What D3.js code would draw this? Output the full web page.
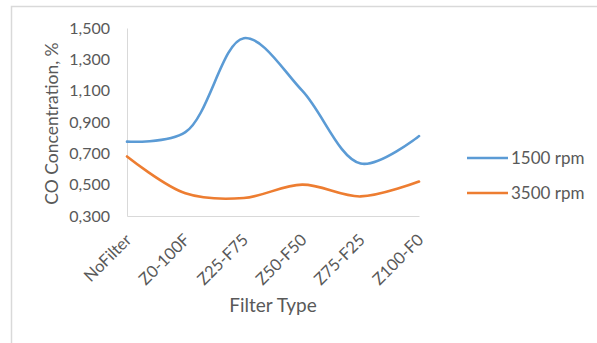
<!DOCTYPE html>
<html><head><meta charset="utf-8">
<script src="https://cdn.jsdelivr.net/npm/d3@7"></script>
<style>html,body{margin:0;padding:0;background:#fff;}svg{display:block;}</style>
</head><body>
<svg id="c" width="597" height="343"></svg>
<script>
const categories = ["NoFilter","Z0-100F","Z25-F75","Z50-F50","Z75-F25","Z100-F0"];
const rpm1500 = [0.775, 0.835, 1.435, 1.10, 0.635, 0.81];
const rpm3500 = [0.68, 0.445, 0.415, 0.50, 0.425, 0.52];
const yTicks = [0.3, 0.5, 0.7, 0.9, 1.1, 1.3, 1.5];
const seriesNames = ["1500 rpm","3500 rpm"];
const colors = ["#5b9bd5","#ed7d31"];

const svg = d3.select("#c");
const font = "Lato, 'Open Sans', sans-serif";
const txt = "#595959";

svg.append("rect").attr("x",11.5).attr("y",6.5).attr("width",700).attr("height",500)
  .attr("fill","#fff").attr("stroke","#d9d9d9").attr("stroke-width",1.5);

const x = d3.scalePoint().domain(categories).range([127,419]);
const y = d3.scaleLinear().domain([0.3,1.5]).range([216,28]);

// y axis
const ya = svg.append("g").attr("transform","translate(127,0)")
  .call(d3.axisLeft(y).tickValues(yTicks).tickSize(0).tickPadding(17)
    .tickFormat(d => d3.format(".3f")(d).replace(".",",")));
ya.select(".domain").attr("stroke","#d9d9d9").attr("stroke-width",1);
ya.selectAll("text").attr("fill",txt).style("font-family",font).style("font-size","16px");

// x axis
const xa = svg.append("g").attr("transform","translate(0,216)")
  .call(d3.axisBottom(x).tickSize(0).tickPadding(0));
xa.select(".domain").attr("stroke","#d9d9d9").attr("stroke-width",1);
xa.selectAll("text").attr("fill",txt).style("font-family",font).style("font-size","16.5px")
  .attr("text-anchor","end").attr("dy",null).attr("y",0)
  .attr("transform","translate(5,25) rotate(-45)");

// lines
const line = d3.line().x((d,i)=>x(categories[i])).y(d=>y(d)).curve(d3.curveCatmullRom.alpha(0.5));
[rpm1500, rpm3500].forEach((s,k)=>{
  svg.append("path").datum(s).attr("d",line).attr("fill","none")
    .attr("stroke",colors[k]).attr("stroke-width",2.6).attr("stroke-linecap","round");
});

// axis titles
svg.append("text").attr("transform","translate(58,123.5) rotate(-90)").attr("text-anchor","middle")
  .attr("fill",txt).style("font-family",font).style("font-size","17.5px").text("CO Concentration, %");
svg.append("text").attr("x",273).attr("y",312).attr("text-anchor","middle")
  .attr("fill",txt).style("font-family",font).style("font-size","19px").text("Filter Type");

// legend
seriesNames.forEach((n,k)=>{
  const ly = 158 + k*35;
  svg.append("line").attr("x1",467).attr("x2",508).attr("y1",ly).attr("y2",ly)
    .attr("stroke",colors[k]).attr("stroke-width",2.6);
  svg.append("text").attr("x",511).attr("y",ly).attr("dy","0.35em").attr("fill",txt)
    .style("font-family",font).style("font-size","17px").text(n);
});
</script>
</body></html>
